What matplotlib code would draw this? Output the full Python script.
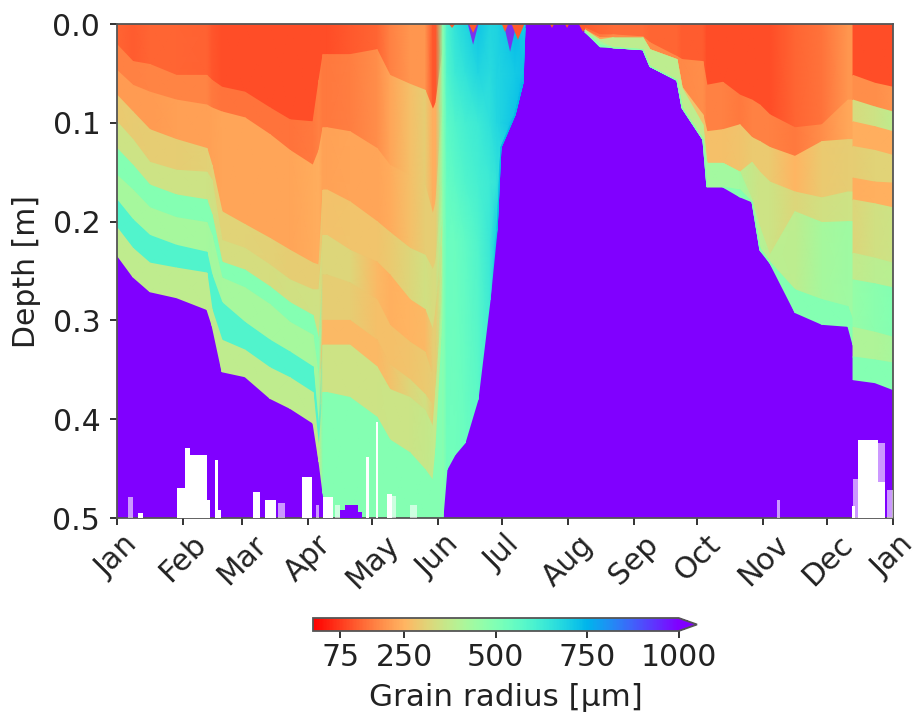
#!/usr/bin/env python3
"""Snow grain radius by depth over one year, split in sections between the big melt/snowfall fronts."""

import numpy as np
import matplotlib
matplotlib.use("Agg")
import matplotlib.pyplot as plt

MONTH_DAYS = [0, 31, 59, 90, 120, 151, 181, 212, 243, 273, 304, 334, 365]
MONTH_LABELS = ["Jan", "Feb", "Mar", "Apr", "May", "Jun", "Jul", "Aug", "Sep", "Oct", "Nov", "Dec", "Jan"]
CBAR_TICKS = [75, 250, 500, 750, 1000]

# Jan -> Jun snowpack
spring_days = [0, 7.5, 15.5, 28, 42.3, 44.7, 49.4, 60.2, 72, 81.4, 92.2, 95, 96.9, 98.8,
               109.6, 122.3, 128.4, 137.8, 144.9, 148.6, 150, 153.3]
spring_depths = [
    [.021, .038, .041, .052, .052, .057, .064, .069, .085, .097, .099, .057, .031, .031, .031, .026, .052, .061, .067, .087, .080, .026],
    [.047, .062, .069, .077, .082, .085, .089, .095, .112, .128, .143, .128, .105, .105, .109, .126, .143, .153, .163, .193, .180, .077],
    [.072, .089, .107, .117, .126, .143, .190, .203, .217, .229, .242, .244, .168, .168, .180, .200, .211, .227, .234, .249, .240, .158],
    [.099, .117, .140, .148, .150, .158, .219, .227, .244, .259, .269, .269, .214, .214, .229, .241, .254, .279, .289, .310, .290, .198],
    [.126, .143, .163, .173, .178, .193, .241, .249, .266, .282, .295, .320, .254, .254, .262, .279, .305, .322, .332, .357, .330, .219],
    [.153, .168, .186, .196, .201, .214, .257, .267, .284, .302, .315, .360, .300, .300, .300, .320, .345, .360, .375, .386, .360, .249],
    [.178, .198, .214, .224, .231, .254, .282, .302, .320, .332, .347, .411, .325, .325, .325, .347, .370, .378, .391, .408, .370, .269],
    [.206, .227, .242, .247, .252, .289, .320, .330, .348, .358, .373, .431, .373, .373, .378, .398, .421, .434, .451, .462, .430, .300],
    [.234, .256, .271, .277, .289, .305, .352, .357, .379, .389, .404, .443, .475, .500, .500, .500, .500, .500, .500, .500, .500, .500],
]
spring_radius = [
    [130, 120, 130, 130, 125, 110, 100, 100, 100, 100, 100, 100, 100, 100, 115, 130, 170, 200, 200, 110, 110, 480],
    [170, 170, 175, 175, 175, 160, 150, 150, 150, 150, 160, 170, 160, 160, 165, 190, 225, 270, 300, 240, 240, 480],
    [210, 210, 210, 215, 215, 220, 225, 225, 225, 225, 235, 240, 220, 220, 225, 225, 235, 270, 300, 300, 300, 470],
    [290, 295, 300, 300, 305, 310, 310, 310, 305, 300, 300, 300, 275, 275, 280, 280, 290, 320, 340, 330, 330, 450],
    [350, 350, 350, 350, 350, 345, 335, 335, 335, 340, 345, 345, 320, 320, 320, 260, 245, 250, 260, 300, 300, 400],
    [490, 490, 490, 490, 490, 490, 490, 490, 490, 490, 490, 480, 300, 300, 300, 270, 270, 280, 290, 300, 300, 400],
    [425, 425, 425, 425, 425, 430, 425, 425, 425, 425, 425, 430, 260, 260, 260, 260, 275, 320, 340, 300, 300, 420],
    [590, 590, 590, 590, 590, 590, 590, 590, 590, 590, 590, 590, 350, 350, 350, 350, 355, 355, 360, 370, 370, 440],
    [375, 375, 375, 375, 375, 375, 375, 375, 375, 375, 375, 375, 490, 490, 490, 490, 490, 490, 490, 490, 490, 490],
]

# Jun -> Jul melt, radius given at depth rows, cut off at melt_edge
melt_days = [153.3, 155.2, 159, 163.7, 169.8, 175.5, 178.8, 180.6, 187.2, 191, 191.9]
melt_edge = [.5, .451, .436, .424, .380, .279, .208, .125, .092, .059, .004]
melt_rows = [0, .05, .1, .16, .22]
melt_radius = [
    [480, 600, 650, 680, 720, 680, 690, 700, 740, 710, 700],
    [480, 590, 630, 650, 680, 670, 690, 690, 710, 720, 700],
    [480, 570, 590, 610, 630, 660, 680, 690, 720, 740, 700],
    [480, 550, 570, 590, 610, 630, 650, 670, 750, 740, 700],
    [480, 540, 540, 560, 590, 640, 700, 740, 740, 740, 700],
    [480, 530, 530, 540, 570, 630, 740, 740, 740, 740, 700],
]
spike_days = [157.6, 167.5, 182.5, 188.6, 204.6, 211.7, 219.2]
spike_halfwidth = [1.5, 2, 1.5, 3, 1, 1, 2]
spike_depth = [.004, .009, .008, .016, .004, .004, .008]
blue_spike_days = [167.5, 184.9]
blue_spike_halfwidth = [2.5, 3]
blue_spike_depth = [.021, .028]

# Aug -> Dec snowpack
fall_days = [220.1, 227.2, 233.3, 247.4, 250.7, 263.4, 265.8, 275.6, 277.5, 285, 293, 298.7,
             302.4, 307.1, 318.9, 331.6, 343.8, 346.2]
fall_depths = [
    [.004, .011, .011, .013, .019, .033, .036, .038, .062, .059, .072, .077, .082, .092, .105, .102, .077, .077],
    [.006, .014, .014, .014, .026, .036, .064, .092, .109, .107, .102, .115, .119, .125, .134, .119, .117, .117],
    [.006, .016, .014, .014, .026, .036, .065, .102, .141, .141, .150, .140, .150, .160, .170, .176, .170, .170],
    [.008, .018, .024, .026, .043, .057, .085, .117, .141, .141, .150, .178, .206, .234, .190, .201, .200, .200],
    [.008, .021, .024, .026, .043, .057, .085, .117, .165, .165, .168, .180, .227, .241, .269, .279, .286, .300],
    [.008, .023, .024, .026, .043, .057, .085, .117, .165, .165, .175, .180, .229, .242, .292, .304, .306, .325],
]
fall_radius = [
    [120, 130, 140, 140, 130, 130, 120, 120, 100, 100, 100, 100, 100, 100, 130, 150, 200, 200],
    [150, 160, 180, 190, 180, 180, 180, 190, 170, 170, 160, 170, 170, 170, 160, 190, 230, 230],
    [200, 220, 260, 280, 280, 280, 280, 280, 270, 270, 280, 290, 290, 290, 250, 290, 300, 300],
    [380, 380, 380, 380, 380, 380, 380, 380, 380, 380, 380, 360, 350, 350, 320, 340, 350, 350],
    [430, 430, 430, 430, 430, 430, 430, 430, 430, 430, 430, 400, 400, 385, 380, 425, 440, 440],
    [490, 490, 490, 490, 490, 490, 490, 490, 490, 490, 490, 490, 490, 490, 490, 490, 490, 490],
]

# last December snowfall
dec_days = [346.2, 356.5, 365]
dec_depths = [
    [.052, .060, .064],
    [.077, .084, .089],
    [.099, .104, .109],
    [.124, .128, .133],
    [.156, .160, .161],
    [.178, .182, .186],
    [.232, .237, .242],
    [.259, .263, .267],
    [.307, .312, .317],
    [.337, .340, .343],
    [.360, .363, .370],
]
dec_radius = [
    [100, 100, 100],
    [190, 190, 200],
    [330, 350, 375],
    [240, 240, 240],
    [300, 310, 310],
    [240, 245, 245],
    [320, 340, 350],
    [370, 385, 390],
    [460, 480, 490],
    [410, 410, 420],
    [490, 490, 490],
]

# missing data at the bottom
gap_start = [9.9, 28.2, 32, 34.3, 42.3, 46.1, 47.5, 64, 69.6, 87, 96.9, 117.1, 121.8, 127, 348.5, 358, 345.7]
gap_width = [2.4, 3.8, 2.3, 8, 1.4, 1.4, 1.4, 3.3, 5.2, 4.7, 4.7, 1.4, 0.9, 2.4, 9.4, 3.3, 1.4]
gap_top = [.495, .470, .429, .436, .482, .441, .492, .474, .482, .459, .479, .438, .403, .476, .421, .464, .488]
pale_start = [5.2, 75.7, 93.6, 102.5, 129.4, 137.8, 310.4, 346.2, 358, 362.2]
pale_width = [2.4, 3.3, 1.4, 2.4, 1.9, 3.3, 1.4, 2.4, 3.3, 2.8]
pale_top = [.479, .485, .487, .487, .478, .487, .482, .461, .424, .472]
hump_start = [104.9, 107.2, 113.4]
hump_width = [2.4, 6.1, 1.9]
hump_top = [.492, .487, .494]

VMIN, VMAX = 0, 1000
PURPLE = plt.get_cmap("rainbow_r")(1.0)


def draw_layers(ax, days, depths, radius):
    """Each layer is a strip between two interfaces, coloured along time."""
    days = np.asarray(days, dtype=float)
    top = np.zeros_like(days)
    for bottom, rad in zip(depths, radius):
        bottom = np.asarray(bottom, dtype=float)
        ax.pcolormesh(np.vstack([days, days]), np.vstack([top, bottom]), np.vstack([rad, rad]),
                      shading="gouraud", cmap="rainbow_r", vmin=VMIN, vmax=VMAX, zorder=1)
        top = bottom


def draw_spikes(ax, days, halfwidth, depth, color):
    for d, w, z in zip(days, halfwidth, depth):
        ax.fill([d - w, d + w, d], [0, 0, z], color=color, lw=0, zorder=2)


def main():
    plt.rcParams.update({"font.size": 21.5, "axes.linewidth": 1.3, "xtick.major.width": 1.3,
                         "ytick.major.width": 1.3, "xtick.major.size": 5, "ytick.major.size": 5,
                         "ytick.major.pad": 7,
                         "axes.edgecolor": "#555555", "xtick.color": "#222222", "ytick.color": "#222222",
                         "text.color": "#222222", "axes.labelcolor": "#222222"})
    fig = plt.figure(figsize=(9.18, 7.18), dpi=100)
    ax = fig.add_axes([117 / 918, 1 - 518 / 718, 776 / 918, 494 / 718])
    ax.set_facecolor(PURPLE)

    draw_layers(ax, spring_days, spring_depths, spring_radius)
    draw_layers(ax, fall_days, fall_depths, fall_radius)
    draw_layers(ax, dec_days, dec_depths, dec_radius)

    # melt zone: radius changes with depth too, so one mesh with values on its vertices
    edge = np.asarray(melt_edge)
    melt_y = np.vstack([np.minimum(r, edge) for r in melt_rows] + [edge])
    melt_x = np.tile(melt_days, (melt_y.shape[0], 1))
    ax.pcolormesh(melt_x, melt_y, np.asarray(melt_radius, dtype=float), shading="gouraud",
                  cmap="rainbow_r", vmin=VMIN, vmax=VMAX, zorder=1)
    draw_spikes(ax, blue_spike_days, blue_spike_halfwidth, blue_spike_depth, "#7a30f0")
    draw_spikes(ax, spike_days, spike_halfwidth, spike_depth, "#ff5a2a")

    ax.bar(gap_start, np.subtract(0.5, gap_top), width=gap_width, bottom=gap_top, align="edge",
           color="white", lw=0, zorder=3)
    ax.bar(pale_start, np.subtract(0.5, pale_top), width=pale_width, bottom=pale_top, align="edge",
           color="white", alpha=0.6, lw=0, zorder=3)
    ax.bar(hump_start, np.subtract(0.5, hump_top), width=hump_width, bottom=hump_top, align="edge",
           color=PURPLE, lw=0, zorder=3)

    ax.set_xlim(0, 365)
    ax.set_ylim(0.5, 0)
    ax.set_xticks(MONTH_DAYS)
    ax.set_xticklabels(MONTH_LABELS, rotation=45, ha="center")
    ax.set_yticks([0, 0.1, 0.2, 0.3, 0.4, 0.5])
    ax.set_ylabel("Depth [m]", labelpad=8)

    # the extend tip sits inside this axes, so it runs past the 1000 tick
    cax = fig.add_axes([313 / 918, 1 - 631 / 718, 384 / 918, 13 / 718])
    sm = plt.cm.ScalarMappable(norm=plt.Normalize(VMIN, VMAX), cmap="rainbow_r")
    cbar = fig.colorbar(sm, cax=cax, orientation="horizontal", extend="max", ticks=CBAR_TICKS)
    cbar.set_label("Grain radius [µm]", labelpad=8, fontsize=22.3, x=0.527)

    fig.savefig("out.png", dpi=100)
    plt.close(fig)


if __name__ == "__main__":
    main()
